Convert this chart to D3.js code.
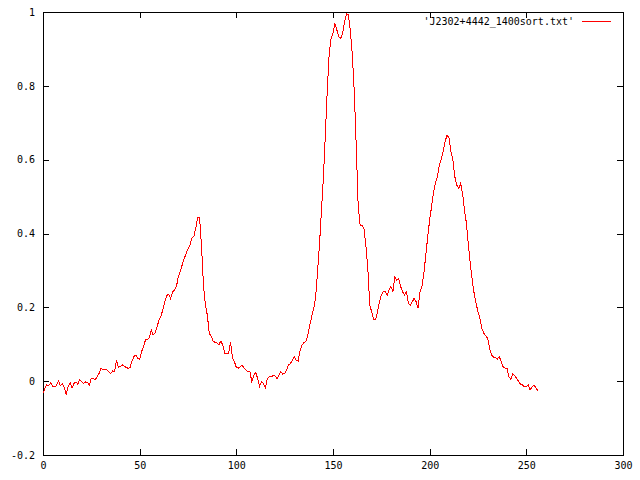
<!DOCTYPE html>
<html>
<head>
<meta charset="utf-8">
<script src="https://cdn.jsdelivr.net/npm/d3@7"></script>
<style>
  body { margin: 0; background: #fff; }
  svg { display: block; }
  text { font-family: "DejaVu Sans Mono", monospace; font-size: 10px; fill: #000; }
</style>
</head>
<body>
<div id="chart"></div>
<script>

    // constants and globals

    const width = 640
    const height = 480
    const margin = { top: 12, right: 17, bottom: 25, left: 43 }

    const seriesLabel = "'J2302+4442_1400sort.txt'"

    const xTicks = [0, 50, 100, 150, 200, 250, 300]
    const yTicks = [-0.2, 0, 0.2, 0.4, 0.6, 0.8, 1]

    // one value per sample, index = sample number (0 .. 256)
    const values = [
        -0.033, -0.019, -0.010, -0.012, -0.004, -0.015, -0.015, -0.012, 0.001, -0.012,
        -0.008, -0.017, -0.037, -0.015, -0.004, -0.019, -0.006, -0.002, -0.008, 0.005,
        -0.002, -0.006, -0.002, -0.004, -0.010, 0.008, 0.008, 0.004, 0.012, 0.021,
        0.035, 0.031, 0.033, 0.031, 0.026, 0.020, 0.028, 0.026, 0.058, 0.038,
        0.039, 0.044, 0.041, 0.037, 0.035, 0.037, 0.053, 0.066, 0.071, 0.062,
        0.059, 0.080, 0.093, 0.112, 0.112, 0.118, 0.139, 0.125, 0.130, 0.148,
        0.165, 0.177, 0.193, 0.215, 0.232, 0.236, 0.223, 0.241, 0.247, 0.256,
        0.283, 0.297, 0.315, 0.331, 0.346, 0.358, 0.369, 0.387, 0.392, 0.414,
        0.443, 0.443, 0.364, 0.261, 0.206, 0.179, 0.130, 0.121, 0.109, 0.105,
        0.103, 0.099, 0.109, 0.097, 0.076, 0.076, 0.076, 0.107, 0.064, 0.053,
        0.037, 0.035, 0.039, 0.044, 0.035, 0.030, 0.026, 0.026, -0.001, 0.015,
        0.024, 0.008, -0.015, -0.001, -0.006, -0.018, 0.006, 0.012, 0.012, 0.015,
        0.015, 0.006, 0.015, 0.026, 0.019, 0.021, 0.030, 0.044, 0.048, 0.057,
        0.066, 0.057, 0.055, 0.084, 0.098, 0.105, 0.107, 0.125, 0.152, 0.175,
        0.197, 0.225, 0.297, 0.369, 0.459, 0.550, 0.662, 0.784, 0.884, 0.929,
        0.942, 0.969, 0.951, 0.933, 0.929, 0.942, 0.974, 0.996, 0.992, 0.947,
        0.884, 0.784, 0.640, 0.477, 0.423, 0.423, 0.414, 0.369, 0.306, 0.206,
        0.188, 0.166, 0.166, 0.188, 0.215, 0.233, 0.242, 0.242, 0.233, 0.247,
        0.256, 0.242, 0.283, 0.274, 0.277, 0.256, 0.242, 0.233, 0.242, 0.211,
        0.206, 0.215, 0.225, 0.215, 0.197, 0.242, 0.256, 0.292, 0.342, 0.391,
        0.437, 0.473, 0.513, 0.536, 0.554, 0.586, 0.601, 0.622, 0.649, 0.667,
        0.658, 0.622, 0.599, 0.554, 0.531, 0.522, 0.536, 0.509, 0.464, 0.428,
        0.369, 0.319, 0.274, 0.238, 0.211, 0.188, 0.170, 0.143, 0.130, 0.123,
        0.116, 0.089, 0.071, 0.065, 0.065, 0.060, 0.067, 0.053, 0.039, 0.035,
        0.035, 0.012, 0.005, 0.021, 0.014, 0.008, -0.001, -0.008, -0.010, -0.015,
        -0.015, -0.010, -0.024, -0.015, -0.010, -0.019, -0.026
    ]

    // scales

    const xScale = d3.scaleLinear()
        .domain([0, 300])
        .range([margin.left, width - margin.right])

    const yScale = d3.scaleLinear()
        .domain([-0.2, 1])
        .range([height - margin.bottom, margin.top])

    const svg = d3.select("#chart")
        .append("svg")
        .attr("width", width)
        .attr("height", height)

    const fmt = d => String(+d.toFixed(1))

    // axes: gnuplot style, ticks pointing inward on all four sides

    svg.append("g")
        .attr("transform", `translate(0,${height - margin.bottom})`)
        .call(d3.axisBottom(xScale).tickValues(xTicks).tickSize(-6).tickPadding(7).tickFormat(fmt))
    svg.append("g")
        .attr("transform", `translate(0,${margin.top})`)
        .call(d3.axisTop(xScale).tickValues(xTicks).tickSize(-6).tickFormat(""))
    svg.append("g")
        .attr("transform", `translate(${margin.left},0)`)
        .call(d3.axisLeft(yScale).tickValues(yTicks).tickSize(-6).tickPadding(8).tickFormat(fmt))
    svg.append("g")
        .attr("transform", `translate(${width - margin.right},0)`)
        .call(d3.axisRight(yScale).tickValues(yTicks).tickSize(-6).tickFormat(""))

    svg.selectAll(".domain").remove()
    svg.selectAll(".tick line")
        .attr("stroke", "#000")
        .attr("shape-rendering", "crispEdges")
    svg.selectAll(".tick text")
        .attr("fill", "#000")
        .style("font-family", "'DejaVu Sans Mono', monospace")
        .style("font-size", "10px")

    // frame
    svg.append("rect")
        .attr("x", xScale(0) + 0.5)
        .attr("y", yScale(1) + 0.5)
        .attr("width", xScale(300) - xScale(0))
        .attr("height", yScale(-0.2) - yScale(1))
        .attr("fill", "none")
        .attr("stroke", "#000")
        .attr("shape-rendering", "crispEdges")

    // the series (aliased like the gnuplot png terminal)
    const line = d3.line()
        .x((d, i) => xScale(i))
        .y(d => yScale(d))

    svg.append("path")
        .datum(values)
        .attr("d", line)
        .attr("fill", "none")
        .attr("stroke", "#ff0000")
        .attr("stroke-width", 1)
        .attr("shape-rendering", "crispEdges")

    // legend, top right
    const legendY = 21
    svg.append("text")
        .attr("x", 574)
        .attr("y", legendY)
        .attr("dy", "0.35em")
        .attr("text-anchor", "end")
        .text(seriesLabel)

    svg.append("line")
        .attr("x1", 582)
        .attr("x2", 611)
        .attr("y1", legendY + 0.5)
        .attr("y2", legendY + 0.5)
        .attr("stroke", "#ff0000")
        .attr("shape-rendering", "crispEdges")

</script>
</body>
</html>
